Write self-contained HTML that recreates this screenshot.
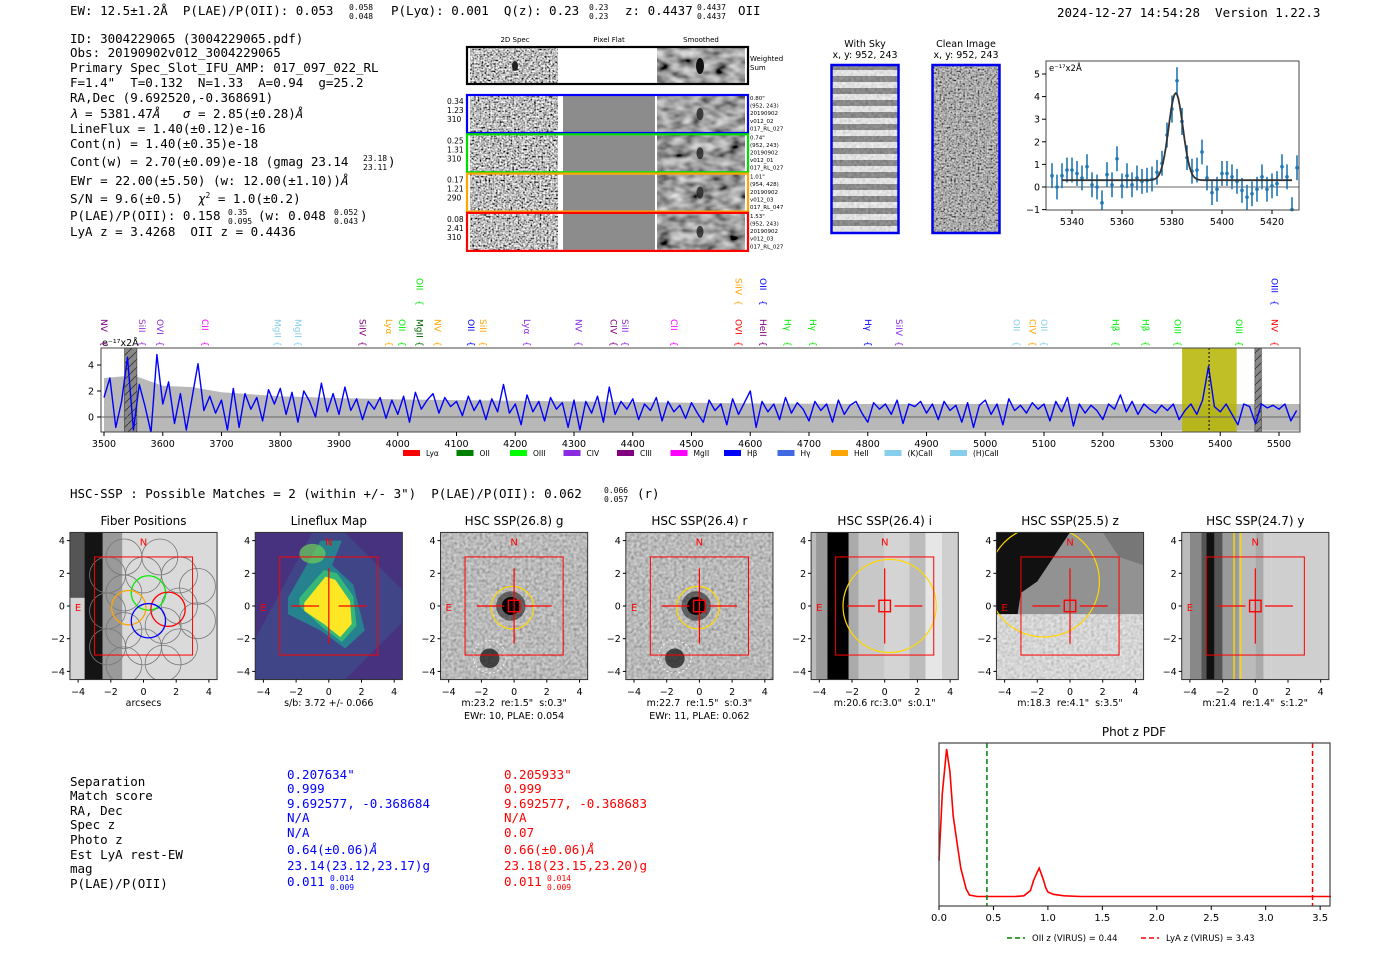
<!DOCTYPE html>
<html><head><meta charset="utf-8"><style>
html,body{margin:0;padding:0;background:#fff;}
svg{display:block;}
svg text{white-space:pre;}
.mono{font-family:"DejaVu Sans Mono","Liberation Mono",monospace;}
.sans{font-family:"DejaVu Sans","Liberation Sans",sans-serif;}
</style></head><body>
<svg id="root" width="1400" height="953" viewBox="0 0 1400 953" xmlns="http://www.w3.org/2000/svg" xml:space="preserve">
<defs>
<filter id="noise" x="0" y="0" width="100%" height="100%"><feTurbulence type="fractalNoise" baseFrequency="0.55" numOctaves="1" seed="3"/><feColorMatrix type="saturate" values="0"/><feComponentTransfer><feFuncR type="linear" slope="3" intercept="-1"/><feFuncG type="linear" slope="3" intercept="-1"/><feFuncB type="linear" slope="3" intercept="-1"/><feFuncA type="linear" slope="0" intercept="1"/></feComponentTransfer></filter>
<filter id="smooth" x="0" y="0" width="100%" height="100%"><feTurbulence type="fractalNoise" baseFrequency="0.07 0.12" numOctaves="2" seed="7"/><feColorMatrix type="saturate" values="0"/><feComponentTransfer><feFuncR type="linear" slope="1.5" intercept="-0.4"/><feFuncG type="linear" slope="1.5" intercept="-0.4"/><feFuncB type="linear" slope="1.5" intercept="-0.4"/><feFuncA type="linear" slope="0" intercept="1"/></feComponentTransfer></filter>
<filter id="fine" x="0" y="0" width="100%" height="100%"><feTurbulence type="fractalNoise" baseFrequency="0.35" numOctaves="1" seed="11"/><feColorMatrix type="saturate" values="0"/><feComponentTransfer><feFuncR type="linear" slope="1.4" intercept="-0.1"/><feFuncG type="linear" slope="1.4" intercept="-0.1"/><feFuncB type="linear" slope="1.4" intercept="-0.1"/><feFuncA type="linear" slope="0" intercept="1"/></feComponentTransfer></filter>
<pattern id="hatch" width="8" height="8" patternUnits="userSpaceOnUse"><rect width="8" height="8" fill="#888"/><path d="M0 8 L8 0" stroke="#333" stroke-width="0.8"/></pattern>
<pattern id="sky" width="66" height="12" patternUnits="userSpaceOnUse"><rect width="66" height="12" fill="#eee"/><rect y="4" width="66" height="6" fill="#666"/></pattern>
<clipPath id="specclip"><rect x="101" y="348" width="1199" height="84"/></clipPath>
</defs>

<g class="mono" font-size="12.5" fill="#000">
<text x="70" y="15">EW: 12.5±1.2Å  P(LAE)/P(OII): 0.053</text>
<text x="349" y="10" font-size="8">0.058</text><text x="349" y="19" font-size="8">0.048</text>
<text x="391" y="15">P(Lyα): 0.001  Q(z): 0.23</text>
<text x="589" y="10" font-size="8">0.23</text><text x="589" y="19" font-size="8">0.23</text>
<text x="625" y="15">z: 0.4437</text>
<text x="697" y="10" font-size="8">0.4437</text><text x="697" y="19" font-size="8">0.4437</text>
<text x="738" y="15">OII</text>
<text x="1057" y="17">2024-12-27 14:54:28  Version 1.22.3</text>
</g>

<g class="mono" font-size="12.5" fill="#000">
<text x="70" y="43">ID: 3004229065 (3004229065.pdf)</text>
<text x="70" y="57">Obs: 20190902v012_3004229065</text>
<text x="70" y="72">Primary Spec_Slot_IFU_AMP: 017_097_022_RL</text>
<text x="70" y="87">F=1.4"  T=0.132  N=1.33  A=0.94  g=25.2</text>
<text x="70" y="102">RA,Dec (9.692520,-0.368691)</text>
<text x="70" y="118"><tspan font-style="italic">λ</tspan> = 5381.47<tspan font-style="italic">Å</tspan>   <tspan font-style="italic">σ</tspan> = 2.85(±0.28)<tspan font-style="italic">Å</tspan></text>
<text x="70" y="133">LineFlux = 1.40(±0.12)e-16</text>
<text x="70" y="148">Cont(n) = 1.40(±0.35)e-18</text>
<text x="70" y="166">Cont(w) = 2.70(±0.09)e-18 (gmag 23.14</text>
<text x="363" y="161" font-size="8">23.18</text><text x="363" y="170" font-size="8">23.11</text><text x="388" y="166">)</text>
<text x="70" y="185">EWr = 22.00(±5.50) (w: 12.00(±1.10))<tspan font-style="italic">Å</tspan></text>
<text x="70" y="203">S/N = 9.6(±0.5)  <tspan font-style="italic">χ</tspan><tspan font-size="8" dy="-5">2</tspan><tspan dy="5"> = 1.0(±0.2)</tspan></text>
<text x="70" y="220">P(LAE)/P(OII): 0.158</text>
<text x="228" y="215" font-size="8">0.35</text><text x="228" y="224" font-size="8">0.095</text>
<text x="258" y="220">(w: 0.048</text><text x="334" y="215" font-size="8">0.052</text><text x="334" y="224" font-size="8">0.043</text><text x="360" y="220">)</text>
<text x="70" y="236">LyA z = 3.4268  OII z = 0.4436</text>
</g>

<g id="spec2d" class="sans">
<text x="515" y="42" font-size="7" text-anchor="middle">2D Spec</text>
<text x="609" y="42" font-size="7" text-anchor="middle">Pixel Flat</text>
<text x="701" y="42" font-size="7" text-anchor="middle">Smoothed</text>
<rect x="470" y="48" width="88" height="35" filter="url(#noise)"/>
<rect x="657" y="48" width="88" height="35" filter="url(#smooth)"/>
<ellipse cx="700" cy="66" rx="4" ry="8" fill="#111"/>
<ellipse cx="515" cy="66" rx="3" ry="5" fill="#222"/>
<rect x="467" y="47" width="281" height="37" fill="none" stroke="#000" stroke-width="2.2"/>
<text x="750" y="61" font-size="7">Weighted</text><text x="750" y="70" font-size="7">Sum</text>
</g>

<g class="sans" font-size="9.5">
<text x="865" y="47" text-anchor="middle">With Sky</text>
<text x="865" y="58" text-anchor="middle">x, y: 952, 243</text>
<rect x="832" y="65" width="66" height="168" fill="url(#sky)"/>
<rect x="832" y="65" width="66" height="168" filter="url(#fine)" opacity="0.35"/>
<rect x="831.5" y="65" width="67" height="168" fill="none" stroke="#0000ee" stroke-width="2.5"/>
<text x="966" y="47" text-anchor="middle">Clean Image</text>
<text x="966" y="58" text-anchor="middle">x, y: 952, 243</text>
<rect x="933" y="65" width="66" height="168" filter="url(#noise)"/>
<rect x="933" y="65" width="66" height="168" fill="#888" opacity="0.35"/>
<rect x="932.5" y="65" width="67" height="168" fill="none" stroke="#0000ee" stroke-width="2.5"/>
</g>

<g id="zoomplot" class="sans"></g>
<g id="spectrum" class="sans"></g>

<text x="70" y="498" class="mono" font-size="12.5">HSC-SSP : Possible Matches = 2 (within +/- 3")  P(LAE)/P(OII): 0.062</text>
<text x="604" y="493" class="mono" font-size="8">0.066</text><text x="604" y="502" class="mono" font-size="8">0.057</text>
<text x="637" y="498" class="mono" font-size="12.5">(r)</text>

<g id="panels" class="sans"></g>

<g class="mono" font-size="12.5">
<text x="70" y="786">Separation</text><text x="70" y="800">Match score</text><text x="70" y="815">RA, Dec</text><text x="70" y="829">Spec z</text><text x="70" y="844">Photo z</text><text x="70" y="859">Est LyA rest-EW</text><text x="70" y="873">mag</text><text x="70" y="888">P(LAE)/P(OII)</text>
<g fill="#0000ff">
<text x="287" y="779">0.207634"</text><text x="287" y="793">0.999</text><text x="287" y="808">9.692577, -0.368684</text><text x="287" y="822">N/A</text><text x="287" y="837">N/A</text><text x="287" y="854">0.64(±0.06)<tspan font-style="italic">Å</tspan></text><text x="287" y="870">23.14(23.12,23.17)g</text><text x="287" y="886">0.011</text><text x="330" y="881" font-size="8">0.014</text><text x="330" y="890" font-size="8">0.009</text>
</g>
<g fill="#ff0000">
<text x="504" y="779">0.205933"</text><text x="504" y="793">0.999</text><text x="504" y="808">9.692577, -0.368683</text><text x="504" y="822">N/A</text><text x="504" y="837">0.07</text><text x="504" y="854">0.66(±0.06)<tspan font-style="italic">Å</tspan></text><text x="504" y="870">23.18(23.15,23.20)g</text><text x="504" y="886">0.011</text><text x="547" y="881" font-size="8">0.014</text><text x="547" y="890" font-size="8">0.009</text>
</g>
</g>

<g id="pdfplot" class="sans"></g>
</svg>

<script>
const NS='http://www.w3.org/2000/svg';
function mk(parent,tag,attrs,txt){const e=document.createElementNS(NS,tag);for(const k in attrs)e.setAttribute(k,attrs[k]);if(txt!==undefined)e.textContent=txt;parent.appendChild(e);return e;}

const rowColors=['#0000ff','#00dd00','#ffa500','#ff0000'];
const rowLeft=[['0.34','1.23','310'],['0.25','1.31','310'],['0.17','1.21','290'],['0.08','2.41','310']];
const rowRight=[['0.80"','(952, 243)','20190902','v012_02','017_RL_027'],['0.74"','(952, 243)','20190902','v012_01','017_RL_027'],['1.01"','(954, 428)','20190902','v012_03','017_RL_047'],['1.53"','(952, 243)','20190902','v012_03','017_RL_027']];
const s2=document.getElementById('spec2d');
for(let i=0;i<4;i++){
  const y0=95+i*39.3;
  const a=mk(s2,'rect',{x:470,y:y0+1,width:88,height:36,filter:'url(#noise)'});
  
  
  mk(s2,'rect',{x:563,y:y0+1,width:92,height:36,fill:'#8c8c8c'});
  mk(s2,'rect',{x:657,y:y0+1,width:88,height:36,filter:'url(#smooth)'});
  mk(s2,'ellipse',{cx:700,cy:y0+19,rx:3.5,ry:6,fill:'#222',opacity:0.8});
  const b=mk(s2,'rect',{x:467,y:y0,width:281,height:38,fill:'none',stroke:rowColors[i],'stroke-width':2.2});
  
  
  rowLeft[i].forEach((t,j)=>mk(s2,'text',{x:447,y:y0+9+j*9,'font-size':7.5},t));
  rowRight[i].forEach((t,j)=>mk(s2,'text',{x:750,y:y0+5+j*7.6,'font-size':5.5},t));
}

const fitWave=[5332,5334,5336,5338,5340,5342,5344,5346,5348,5350,5352,5354,5356,5358,5360,5362,5364,5366,5368,5370,5372,5374,5376,5378,5380,5382,5384,5386,5388,5390,5392,5394,5396,5398,5400,5402,5404,5406,5408,5410,5412,5414,5416,5418,5420,5422,5424,5426,5428,5430];
const fitFlux=[0.5,0.0,0.5,0.75,0.75,0.6,0.4,0.9,0.1,0.0,-0.7,0.55,0.1,1.25,0.05,0.5,0.1,0.4,0.25,0.3,0.35,0.65,1.05,2.3,3.45,4.7,2.9,1.3,0.7,0.75,1.55,0.4,-0.25,-0.1,0.6,0.6,0.45,0.25,-0.15,-0.45,-0.3,-0.1,0.45,-0.1,0.05,0.15,0.9,0.45,-1.0,0.85];
const fitErr=[0.55,0.55,0.55,0.55,0.55,0.55,0.55,0.55,0.55,0.55,0.55,0.55,0.55,0.55,0.55,0.55,0.55,0.55,0.55,0.55,0.55,0.55,0.55,0.55,0.6,0.6,0.6,0.55,0.55,0.55,0.55,0.55,0.55,0.55,0.55,0.55,0.55,0.55,0.55,0.55,0.55,0.55,0.55,0.55,0.55,0.55,0.55,0.55,0.55,0.55];
const fitParams=[3.85,5381.5,2.85,0.3];
const zTicksX=[5340,5360,5380,5400,5420];
const zTicksY=[-1,0,1,2,3,4,5];
(function(){
  const g=document.getElementById('zoomplot');
  const X=w=>1072+(w-5340)*2.5, Y=v=>187-v*22.6;
  mk(g,'rect',{x:1046,y:61,width:253,height:149,fill:'#fff'});
  mk(g,'line',{x1:1046,x2:1299,y1:Y(0),y2:Y(0),stroke:'#666','stroke-width':1});
  fitWave.forEach((w,i)=>{
    const l=mk(g,'line',{x1:X(w),x2:X(w),y1:Math.max(61,Y(fitFlux[i]+fitErr[i])),y2:Math.min(210,Y(fitFlux[i]-fitErr[i])),stroke:'#1f77b4','stroke-width':1.6});
    
    
    const c=mk(g,'circle',{cx:X(w),cy:Y(fitFlux[i]),r:1.8,fill:'#1f77b4'});
    
    
  });
  let d='';
  for(let w=5336;w<=5428;w+=0.5){const v=fitParams[3]+fitParams[0]*Math.exp(-0.5*Math.pow((w-fitParams[1])/fitParams[2],2));d+=(d?'L':'M')+X(w).toFixed(1)+' '+Y(v).toFixed(1);}
  const fp=mk(g,'path',{d:d,fill:'none',stroke:'#333','stroke-width':1.8});
  
  
  mk(g,'rect',{x:1046,y:61,width:253,height:149,fill:'none',stroke:'#444','stroke-width':1});
  zTicksX.forEach(t=>{mk(g,'line',{x1:X(t),x2:X(t),y1:210,y2:214,stroke:'#000'});mk(g,'text',{x:X(t),y:225,'font-size':9.5,'text-anchor':'middle'},t);});
  zTicksY.forEach(t=>{mk(g,'line',{x1:1042,x2:1046,y1:Y(t),y2:Y(t),stroke:'#000'});mk(g,'text',{x:1040,y:Y(t)+3.5,'font-size':9.5,'text-anchor':'end'},t<0?'−'+(-t):t);});
  mk(g,'text',{x:1049,y:71,'font-size':8.5},'e⁻¹⁷x2Å');
})();

const specStart=3500, specStep=10;
const specFlux=[1.5,3.0,-0.8,1.2,4.6,-1.0,2.5,0.8,-1.2,4.8,
1.0,2.7,-0.5,1.8,-1.0,1.5,4.1,0.5,1.6,0.3,
1.3,-1.0,2.2,-0.8,1.8,0.6,1.5,-0.3,2.1,1.0,
2.2,0.2,1.9,-0.4,2.0,1.2,0.0,2.6,0.4,1.8,
0.2,2.3,0.5,1.4,-0.2,1.2,0.6,1.5,-0.1,1.3,
0.2,1.6,-0.4,1.9,0.6,1.3,1.8,0.3,1.5,0.8,
1.2,0.1,1.6,0.5,1.3,-0.2,1.4,0.4,2.5,0.3,
1.0,-0.6,1.7,0.4,1.2,-0.3,1.5,0.6,1.1,-0.8,
1.3,-1.0,1.2,0.3,1.6,-0.4,2.3,0.2,1.2,0.6,
1.4,-0.2,1.0,0.5,1.5,-0.3,1.2,0.4,0.9,-0.1,
1.1,0.3,-0.4,1.3,0.5,1.0,-0.6,1.4,0.2,1.1,
2.0,-0.8,1.2,0.4,1.0,-0.2,1.5,0.3,1.1,0.6,
-0.3,1.2,0.5,1.0,-0.4,1.3,0.2,0.9,1.2,0.3,
-0.4,1.1,0.6,1.0,0.2,1.3,-0.5,1.0,0.8,1.2,
0.3,1.0,-0.2,1.2,0.5,0.9,-0.4,1.1,-0.8,0.9,
1.3,0.2,1.0,-0.6,1.4,0.5,0.9,0.3,1.1,0.6,
1.0,-0.3,1.2,0.4,1.5,-0.7,1.0,0.3,0.9,0.5,
-0.2,1.0,0.6,1.7,0.4,1.2,0.2,1.0,0.6,0.3,
0.9,0.5,1.0,-0.2,0.5,1.0,0.2,1.3,3.9,0.8,
0.4,1.0,0.2,-0.6,1.0,0.8,-0.5,1.0,0.7,0.9,
0.6,1.0,-0.3,0.5];
const errWave=[3500,3550,3600,3650,3700,3800,3900,4000,4100,4200,4300,4400,4500,4600,4800,5000,5200,5400,5540];
const errVal=[3.0,3.2,2.4,2.3,1.9,1.6,1.45,1.35,1.3,1.25,1.2,1.15,1.1,1.05,1.0,1.0,1.0,1.0,1.0];
const specTicks=[3500,3600,3700,3800,3900,4000,4100,4200,4300,4400,4500,4600,4700,4800,4900,5000,5100,5200,5300,5400,5500];
const specYTicks=[0,2,4];
const lineLabels=[['NV',3500,'#800080',0],['SiII',3565,'#9932cc',0],['OVI',3595,'#8a2be2',0],['CII',3672,'#ff00ff',0],['MgII',3795,'#87ceeb',0],['MgII',3830,'#87ceeb',0],['SiIV',3940,'#800080',0],['Lyα',3985,'#ffa500',0],['OII',4007,'#00ee00',0],['MgII',4037,'#006400',0],['NV',4068,'#ffa500',0],['OII',4125,'#0000ff',0],['SiII',4145,'#ffa500',0],['Lyα',4220,'#8a2be2',0],['NV',4308,'#8a2be2',0],['CIV',4367,'#800080',0],['SiII',4387,'#8a2be2',0],['CII',4470,'#ff00ff',0],['OVI',4580,'#ff0000',0],['HeII',4622,'#800080',0],['Hγ',4663,'#00ee00',0],['Hγ',4707,'#00ee00',0],['Hγ',4800,'#0000ff',0],['SiIV',4853,'#8a2be2',0],['OII',5053,'#87ceeb',0],['CIV',5080,'#ffa500',0],['OII',5100,'#87ceeb',0],['Hβ',5222,'#00ee00',0],['Hβ',5273,'#00ee00',0],['OIII',5327,'#00ee00',0],['OIII',5432,'#00ee00',0],['NV',5492,'#ff0000',0],['OII',4037,'#00ee00',1],['SiIV',4580,'#ffa500',1],['OII',4622,'#0000ff',1],['OIII',5492,'#0000ff',1]];
const legendNames=['Lyα','OII','OIII','CIV','CIII','MgII','Hβ','Hγ','HeII','(K)CaII','(H)CaII'];
const legendColors=['#ff0000','#008000','#00ff00','#8a2be2','#800080','#ff00ff','#0000ff','#4169e1','#ffa500','#87ceeb','#87ceeb'];
(function(){
  const g=document.getElementById('spectrum');
  const X=w=>104+(w-3500)*0.5875, Y=v=>417-v*13;
  const clip=mk(g,'g',{'clip-path':'url(#specclip)'});
  let up='',lo='';
  errWave.forEach((w,i)=>{up+=(i?'L':'M')+X(w).toFixed(1)+' '+Y(errVal[i]).toFixed(1);});
  for(let i=errWave.length-1;i>=0;i--)lo+='L'+X(errWave[i]).toFixed(1)+' '+Y(-errVal[i]*1.05).toFixed(1);
  const band=mk(clip,'path',{d:up+lo+'Z',fill:'#b8b8b8'});
  
  
  const hl=mk(clip,'rect',{x:X(5335),y:348,width:X(5428)-X(5335),height:84,fill:'#b5b500',opacity:0.85});
  
  
  mk(clip,'rect',{x:X(3535),y:348,width:X(3556)-X(3535),height:84,fill:'url(#hatch)',stroke:'#333','stroke-width':0.6});
  mk(clip,'rect',{x:X(5459),y:348,width:X(5470)-X(5459),height:84,fill:'url(#hatch)',stroke:'#333','stroke-width':0.6});
  mk(clip,'line',{x1:101,x2:1300,y1:Y(0),y2:Y(0),stroke:'#666','stroke-width':1});
  let d='';
  specFlux.forEach((v,i)=>{d+=(i?'L':'M')+X(specStart+i*specStep).toFixed(1)+' '+Y(v).toFixed(1);});
  const sp=mk(clip,'path',{d:d,fill:'none',stroke:'#0000ff','stroke-width':1.4,'stroke-linejoin':'round'});
  
  
  mk(clip,'line',{x1:X(5381),x2:X(5381),y1:348,y2:432,stroke:'#000','stroke-width':1,'stroke-dasharray':'2,2'});
  mk(g,'rect',{x:101,y:348,width:1199,height:84,fill:'none',stroke:'#444','stroke-width':1});
  specTicks.forEach(t=>{mk(g,'line',{x1:X(t),x2:X(t),y1:432,y2:436,stroke:'#000'});mk(g,'text',{x:X(t),y:447,'font-size':9.5,'text-anchor':'middle'},t);});
  specYTicks.forEach(t=>{mk(g,'line',{x1:97,x2:101,y1:Y(t),y2:Y(t),stroke:'#000'});mk(g,'text',{x:94,y:Y(t)+3.5,'font-size':9.5,'text-anchor':'end'},t);});
  mk(g,'text',{x:102,y:346,'font-size':9.5},'e⁻¹⁷x2Å');
  lineLabels.forEach(l=>{
    const x=X(l[1]);const yb=l[3]?300:341;
    const t=mk(g,'text',{x:0,y:0,'font-size':9,fill:l[2],transform:'translate('+(x-3)+','+(yb-22)+') rotate(90)'},l[0]);
    
    
    mk(g,'text',{x:0,y:0,'font-size':9,fill:l[2],transform:'translate('+(x-3)+','+(yb)+') rotate(90)'},'{');
  });
  legendNames.forEach((n,i)=>{
    const lx=403+i*53.5+(i>9?12:0);
    const r=mk(g,'rect',{x:lx,y:450,width:17,height:6,fill:legendColors[i]});
    
    
    mk(g,'text',{x:lx+23,y:456,'font-size':7.5},n);
  });
})();

const panelTitles=['Fiber Positions','Lineflux Map','HSC SSP(26.8) g','HSC SSP(26.4) r','HSC SSP(26.4) i','HSC SSP(25.5) z','HSC SSP(24.7) y'];
const panelCaps=[['arcsecs'],['s/b: 3.72 +/- 0.066'],['m:23.2  re:1.5"  s:0.3"','EWr: 10, PLAE: 0.054'],['m:22.7  re:1.5"  s:0.3"','EWr: 11, PLAE: 0.062'],['m:20.6 rc:3.0"  s:0.1"'],['m:18.3  re:4.1"  s:3.5"'],['m:21.4  re:1.4"  s:1.2"']];
const panelTicks=[-4,-2,0,2,4];
(function(){
  const g=document.getElementById('panels');
  const S=16.35, CY=606;
  panelTitles.forEach((title,p)=>{
    const cx=143.5+p*185.3;
    const X=a=>cx+a*S, Y=a=>CY-a*S;
    const x0=X(-4.5), y0=Y(4.5), w=9*S;
    const pg=mk(g,'g',{});
    
    
    const cpid='cp'+p;
    const cp=mk(mk(pg,'defs',{}),'clipPath',{id:cpid});mk(cp,'rect',{x:x0,y:y0,width:w,height:w});
    const c=mk(pg,'g',{'clip-path':'url(#'+cpid+')'});
    if(p===0){
      mk(c,'rect',{x:x0,y:y0,width:w,height:w,fill:'#d4d4d4'});
      mk(c,'rect',{x:x0,y:y0,width:X(-2)-x0,height:Y(0.5)-y0,fill:'#555'});
      mk(c,'rect',{x:X(-3.6),y:y0,width:1.1*S,height:w,fill:'#141414'});
      mk(c,'rect',{x:X(-2.5),y:y0,width:1.2*S,height:w,fill:'#9a9a9a'});
      mk(c,'rect',{x:X(-1.3),y:y0,width:5.8*S,height:w,fill:'#e0e0e0',opacity:0.5});
      const hx=[[-1.2,3.0],[1,3.0],[-2.2,1.9],[0,1.9],[2.2,1.9],[-1.2,0.8],[3.3,1.2],[-2.2,-0.3],[3.3,-0.9],[-1.2,-1.5],[1.2,-1.2],[-2.2,-2.5],[0,-2.5],[2.2,-2.5],[-1.2,-3.6],[1.2,-3.5],[2.2,0]];
      hx.forEach(h=>mk(c,'circle',{cx:X(h[0]),cy:Y(h[1]),r:1.1*S,fill:'none',stroke:'#777','stroke-width':0.8}));
      [[0.3,0.8,'#00ee00'],[-0.9,-0.1,'#ffa500'],[1.5,-0.2,'#ff0000'],[0.3,-0.9,'#0000ff']].forEach(h=>{
        const f=mk(c,'circle',{cx:X(h[0]),cy:Y(h[1]),r:1.05*S,fill:'none',stroke:h[2],'stroke-width':1.3});
        
        
      });
    } else if(p===1){
      mk(c,'rect',{x:x0,y:y0,width:w,height:w,fill:'#46327e'});
      mk(c,'polygon',{points:[[-4.5,-2],[-1,4.5],[1,4.5],[4.5,1],[4.5,-1],[1,-4.5],[-4.5,-4.5]].map(q=>X(q[0])+','+Y(q[1])).join(' '),fill:'#3e4a89',opacity:0.8});
      mk(c,'polygon',{points:[[-2.5,0.5],[-0.5,4],[0.8,4],[0.2,2.5],[1.5,1.3],[2.2,-1.5],[1,-2.6],[-0.5,-1.5],[-2.5,-0.5]].map(q=>X(q[0])+','+Y(q[1])).join(' '),fill:'#26828e'});
      mk(c,'polygon',{points:[[-1.8,0.5],[-0.3,2.2],[0.5,2],[1.5,0.6],[1.7,-1.2],[0.8,-2.2],[-0.4,-1.3],[-1.8,0]].map(q=>X(q[0])+','+Y(q[1])).join(' '),fill:'#35b779'});
      mk(c,'polygon',{points:[[-1.5,0.2],[-0.2,1.8],[0.4,1.6],[1.3,0.3],[1.4,-1.1],[0.7,-1.9],[-0.3,-1.1],[-1.5,-0.3]].map(q=>X(q[0])+','+Y(q[1])).join(' '),fill:'#fde725'});
      mk(c,'ellipse',{cx:X(-1),cy:Y(3.2),rx:0.8*S,ry:0.6*S,fill:'#6ece58',opacity:0.7});
    } else if(p===2||p===3){
      mk(c,'rect',{x:x0,y:y0,width:w,height:w,filter:'url(#fine)'});
      mk(c,'rect',{x:x0,y:y0,width:w,height:w,fill:'#999',opacity:0.35});
      mk(c,'circle',{cx:X(-0.2),cy:Y(0),r:0.9*S,fill:'#222',opacity:0.6});
      mk(c,'circle',{cx:X(-0.2),cy:Y(0),r:0.55*S,fill:'#000'});
      mk(c,'circle',{cx:X(-1.5),cy:Y(-3.2),r:0.6*S,fill:'#222',opacity:0.8});
      mk(c,'circle',{cx:X(-1.5),cy:Y(-3.1),r:1.0*S,fill:'none',stroke:'#fff','stroke-width':0.8,'stroke-dasharray':'2,2'});
      mk(c,'circle',{cx:X(-0.1),cy:Y(-0.1),r:1.3*S,fill:'none',stroke:'#ffd700','stroke-width':1.2});
    } else if(p===4||p===6){
      const bands=p===4?[[-4.5,'#bbb'],[-4.2,'#999'],[-3.5,'#000'],[-2.2,'#aaa'],[-1.6,'#c8c8c8'],[0,'#d4d4d4'],[1.5,'#bcbcbc'],[2.5,'#e6e6e6'],[3.5,'#cfcfcf']]:[[-4.5,'#bbb'],[-4.0,'#888'],[-3.3,'#555'],[-3.0,'#111'],[-2.5,'#555'],[-2.0,'#9a9a9a'],[-1.0,'#bbb'],[0,'#aaa'],[0.5,'#d0d0d0'],[1.0,'#cfcfcf']];
      bands.forEach((b,i)=>{const nx=i<bands.length-1?bands[i+1][0]:4.5;mk(c,'rect',{x:X(b[0]),y:y0,width:(nx-b[0])*S,height:w,fill:b[1]});});
      if(p===4) mk(c,'circle',{cx:X(0.3),cy:Y(0),r:2.85*S,fill:'none',stroke:'#ffd700','stroke-width':1.2});
      else {mk(c,'line',{x1:X(-1.3),x2:X(-1.3),y1:y0,y2:y0+w,stroke:'#ffd700','stroke-width':1.4});mk(c,'line',{x1:X(-0.9),x2:X(-0.9),y1:y0,y2:y0+w,stroke:'#ffd700','stroke-width':1.4});}
    } else if(p===5){
      mk(c,'rect',{x:x0,y:y0,width:w,height:w,fill:'#777'});
      mk(c,'rect',{x:x0,y:Y(-0.5),width:w,height:4*S,filter:'url(#fine)'});
      mk(c,'rect',{x:x0,y:Y(-0.5),width:w,height:4*S,fill:'#ddd',opacity:0.55});
      mk(c,'polygon',{points:[[-4.5,4.5],[0,4.5],[-1,3],[-2,1.5],[-3,0.8],[-3.2,-0.5],[-4.5,-0.5]].map(q=>X(q[0])+','+Y(q[1])).join(' '),fill:'#111'});
      mk(c,'polygon',{points:[[0,4.5],[2,4.5],[3,3],[4.5,2.5],[4.5,-0.5],[-3.2,-0.5],[-3,0.8],[-2,1.5],[-1,3]].map(q=>X(q[0])+','+Y(q[1])).join(' '),fill:'#999',opacity:0.8});
      mk(c,'circle',{cx:X(-1.6),cy:Y(1.5),r:3.4*S,fill:'none',stroke:'#ffd700','stroke-width':1.2});
    }
    mk(c,'rect',{x:X(-3),y:Y(3),width:6*S,height:6*S,fill:'none',stroke:'#ff0000','stroke-width':1});
    if(p>0){
      mk(c,'line',{x1:X(-2.3),x2:X(-0.6),y1:Y(0),y2:Y(0),stroke:'#ff0000','stroke-width':1.2});
      mk(c,'line',{x1:X(0.6),x2:X(2.3),y1:Y(0),y2:Y(0),stroke:'#ff0000','stroke-width':1.2});
      mk(c,'line',{x1:X(0),x2:X(0),y1:Y(2.3),y2:Y(-2.3),stroke:'#ff0000','stroke-width':1.2});
    }
    if(p>1) mk(c,'rect',{x:X(-0.35),y:Y(0.35),width:0.7*S,height:0.7*S,fill:'none',stroke:'#ff0000','stroke-width':1.4});
    mk(c,'text',{x:X(0),y:Y(3.7),'font-size':10,fill:'#ff0000','text-anchor':'middle'},'N');
    mk(c,'text',{x:X(-4),y:Y(-0.3),'font-size':10,fill:'#ff0000','text-anchor':'middle'},'E');
    mk(pg,'rect',{x:x0,y:y0,width:w,height:w,fill:'none',stroke:'#333','stroke-width':1});
    mk(pg,'text',{x:cx,y:525,'font-size':12,'text-anchor':'middle'},title);
    panelTicks.forEach(t=>{
      const lab=t<0?'−'+(-t):String(t);
      mk(pg,'line',{x1:X(t),x2:X(t),y1:y0+w,y2:y0+w+3,stroke:'#000'});
      mk(pg,'text',{x:X(t),y:695,'font-size':9.5,'text-anchor':'middle'},lab);
      mk(pg,'line',{x1:x0-3,x2:x0,y1:Y(t),y2:Y(t),stroke:'#000'});
      mk(pg,'text',{x:x0-5,y:Y(t)+3.5,'font-size':9.5,'text-anchor':'end'},lab);
    });
    panelCaps[p].forEach((s,j)=>mk(pg,'text',{x:cx,y:706+j*13,'font-size':9.5,'text-anchor':'middle'},s));
  });
})();

const pdfZ=[0,0.03,0.07,0.1,0.13,0.17,0.2,0.25,0.28,0.35,0.5,0.7,0.78,0.84,0.87,0.9,0.92,0.94,0.96,0.98,1.0,1.05,1.15,1.3,2.0,3.0,3.6];
const pdfP=[0.25,0.7,1.0,0.85,0.55,0.35,0.2,0.06,0.02,0.01,0.01,0.01,0.015,0.05,0.12,0.17,0.2,0.16,0.12,0.07,0.04,0.025,0.015,0.01,0.01,0.01,0.01];
const pdfTicks=[0,0.5,1,1.5,2,2.5,3,3.5];
const virusZ=[0.44,3.43];
(function(){
  const g=document.getElementById('pdfplot');
  const X=z=>939+z*108.9, Y=v=>898-v*149;
  mk(g,'text',{x:1134,y:736,'font-size':12,'text-anchor':'middle'},'Phot z PDF');
  let d='';
  pdfZ.forEach((z,i)=>{d+=(i?'L':'M')+X(z).toFixed(1)+' '+Y(pdfP[i]).toFixed(1);});
  const pl=mk(g,'path',{d:d,fill:'none',stroke:'#ff0000','stroke-width':1.6});
  
  
  const l1=mk(g,'line',{x1:X(virusZ[0]),x2:X(virusZ[0]),y1:743,y2:906,stroke:'#008000','stroke-width':1.5,'stroke-dasharray':'5,3'});
  
  
  const l2=mk(g,'line',{x1:X(virusZ[1]),x2:X(virusZ[1]),y1:743,y2:906,stroke:'#ff0000','stroke-width':1.5,'stroke-dasharray':'5,3'});
  
  
  mk(g,'rect',{x:939,y:743,width:391,height:163,fill:'none',stroke:'#444','stroke-width':1.2});
  pdfTicks.forEach(t=>{mk(g,'line',{x1:X(t),x2:X(t),y1:906,y2:910,stroke:'#000'});mk(g,'text',{x:X(t),y:921,'font-size':10,'text-anchor':'middle'},t.toFixed(1));});
  mk(g,'line',{x1:1007,x2:1025,y1:938,y2:938,stroke:'#008000','stroke-width':1.5,'stroke-dasharray':'5,3'});
  mk(g,'text',{x:1032,y:941,'font-size':8.5},'OII z (VIRUS) = 0.44');
  mk(g,'line',{x1:1141,x2:1159,y1:938,y2:938,stroke:'#ff0000','stroke-width':1.5,'stroke-dasharray':'5,3'});
  mk(g,'text',{x:1166,y:941,'font-size':8.5},'LyA z (VIRUS) = 3.43');
})();
</script>
</body></html>
